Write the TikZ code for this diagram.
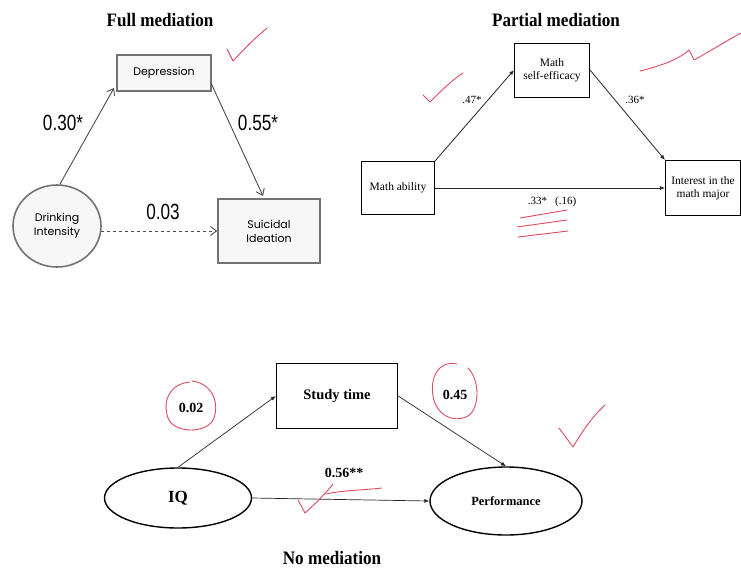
\documentclass[tikz,border=0pt]{standalone}
\usepackage{fontspec}
\setmainfont{Liberation Serif}
\setsansfont{Liberation Sans}
\newfontfamily\gothic{Poppins}
\newfontfamily\narrowsans[FakeStretch=0.78]{Liberation Sans}
\newfontfamily\condserif[FakeStretch=0.9]{Liberation Serif}
\definecolor{pen}{RGB}{215,45,70}
\usetikzlibrary{arrows.meta,shapes.geometric}
\begin{document}
\begin{tikzpicture}[x=1pt,y=-1pt,
  title/.style={font=\condserif\bfseries\fontsize{19}{21}\selectfont},
  gbox/.style={draw=black!55,line width=1.6pt,fill=black!3,inner sep=2pt,align=center,font=\gothic\fontsize{11}{14}\selectfont},
  gell/.style={ellipse,draw=black!55,line width=1.6pt,fill=black!3,align=center,font=\gothic\fontsize{11}{14}\selectfont},
  garr/.style={draw=black!70,line width=0.9pt,-{Straight Barb[length=6pt,width=9pt]}},
  bignum/.style={font=\narrowsans\fontsize{22}{24}\selectfont,inner sep=0pt},
  sbox/.style={draw=black,line width=1pt,align=center,inner sep=1pt,font=\fontsize{11.5}{13}\selectfont},
  sarr/.style={draw=black!85,line width=0.8pt,-{Latex[length=5pt,width=4pt]}},
  smallnum/.style={font=\fontsize{11}{13}\selectfont,inner sep=0pt},
  bbox/.style={draw=black,line width=1.4pt,inner sep=0pt,font=\bfseries\fontsize{14.5}{16}\selectfont},
  bell/.style={ellipse,draw=black,line width=1.4pt,inner sep=0pt},
  barr/.style={draw=black!85,line width=0.7pt,-{Latex[length=5pt,width=4pt]}},
  bnum/.style={font=\bfseries\fontsize{14}{16}\selectfont,inner sep=0pt},
  red/.style={draw=pen,line width=0.9pt,line cap=round,line join=round,opacity=0.85}]
\useasboundingbox (0,0) rectangle (741,571);
\fill[white] (0,0) rectangle (741,571);

% ---------------- Full mediation
\node[title] (t1) at (160,20) {Full mediation};
\node[gbox,minimum width=94pt,minimum height=36pt] (dep) at (164,73) {Depression};
\node[gbox,minimum width=102pt,minimum height=64pt] (sui) at (269,231) {Suicidal\\Ideation};
\node[gell,minimum width=88pt,minimum height=82pt,inner sep=0pt] (dri) at (57,226) {Drinking\\Intensity};
\coordinate (d1) at (60,184);
\coordinate (d2) at (114,88);
\draw[garr] (d1) -- (d2);
\coordinate (d3) at (211,83);
\coordinate (d4) at (263,196);
\draw[garr] (d3) -- (d4);
\coordinate (d5) at (101,231);
\draw[garr,dashed] (d5) -- (sui.west |- d5);
\node[bignum] (l030) at (63,123) {0.30*};
\node[bignum] (l055) at (258,123) {0.55*};
\node[bignum] (l003) at (163,212) {0.03};

% ---------------- Partial mediation
\node[title] (t2) at (556,20) {Partial mediation};
\node[sbox,minimum width=75pt,minimum height=54pt] (mse) at (552,70) {Math\\self-efficacy};
\node[sbox,minimum width=73pt,minimum height=53pt] (mab) at (398,188) {Math ability};
\node[sbox,minimum width=75pt,minimum height=55pt] (int) at (703,188) {Interest in the\\math major};
\draw[sarr] (mab.north east) -- (mse.west);
\draw[sarr] (mse.east) -- (int.north west);
\draw[sarr] (mab.east) -- (int.west);
\node[smallnum] (l47) at (472,100) {.47*};
\node[smallnum] (l36) at (635,100) {.36*};
\node[smallnum] (l33) at (552,202) {.33*\hspace{8pt}(.16)};

% ---------------- No mediation
\node[bbox,minimum width=121pt,minimum height=65pt] (stu) at (337,396) {Study time};
\node[bell,minimum width=147pt,minimum height=60pt,font=\bfseries\fontsize{17}{19}\selectfont] (iq) at (178,498) {IQ};
\node[bell,minimum width=152pt,minimum height=68pt,font=\bfseries\fontsize{12.5}{14}\selectfont] (per) at (506,501) {Performance};
\draw[barr] (iq.north) -- (stu.west);
\draw[barr] (stu.east) -- (per.north);
\draw[barr] (iq.east) -- (per.west);
\node[bnum] (l002) at (191,408) {0.02};
\node[bnum] (l045) at (455,395) {0.45};
\node[bnum] (l056) at (344,473) {0.56**};
\node[title] (t3) at (332,558) {No mediation};

% ---------------- red handwriting
\draw[red] (227,49) -- (233,61) .. controls (245,48) and (255,38) .. (267,28);
\draw[red] (423,95) -- (430,102) .. controls (442,90) and (452,80) .. (463,73);
\draw[red] (640,71) .. controls (660,66) and (678,60) .. (689,50) -- (694,60) .. controls (712,50) and (728,40) .. (741,33);
\draw[red] (520,218) -- (567,210);
\draw[red] (517,227) -- (567,220);
\draw[red] (518,237) -- (568,231);
\draw[red] (190,382) .. controls (170,384) and (162,400) .. (168,418) .. controls (174,434) and (208,434) .. (214,418) .. controls (220,400) and (210,383) .. (192,381);
\draw[red] (457,364) .. controls (438,360) and (430,378) .. (433,396) .. controls (436,414) and (452,424) .. (468,416) .. controls (480,408) and (480,380) .. (468,368);
\draw[red] (298,500) -- (305,513) .. controls (315,504) and (325,494) .. (333,484);
\draw[red] (326,494) .. controls (345,490) and (365,490) .. (382,488);
\draw[red] (559,428) -- (573,447) .. controls (583,430) and (593,416) .. (605,405);
\end{tikzpicture}
\end{document}
